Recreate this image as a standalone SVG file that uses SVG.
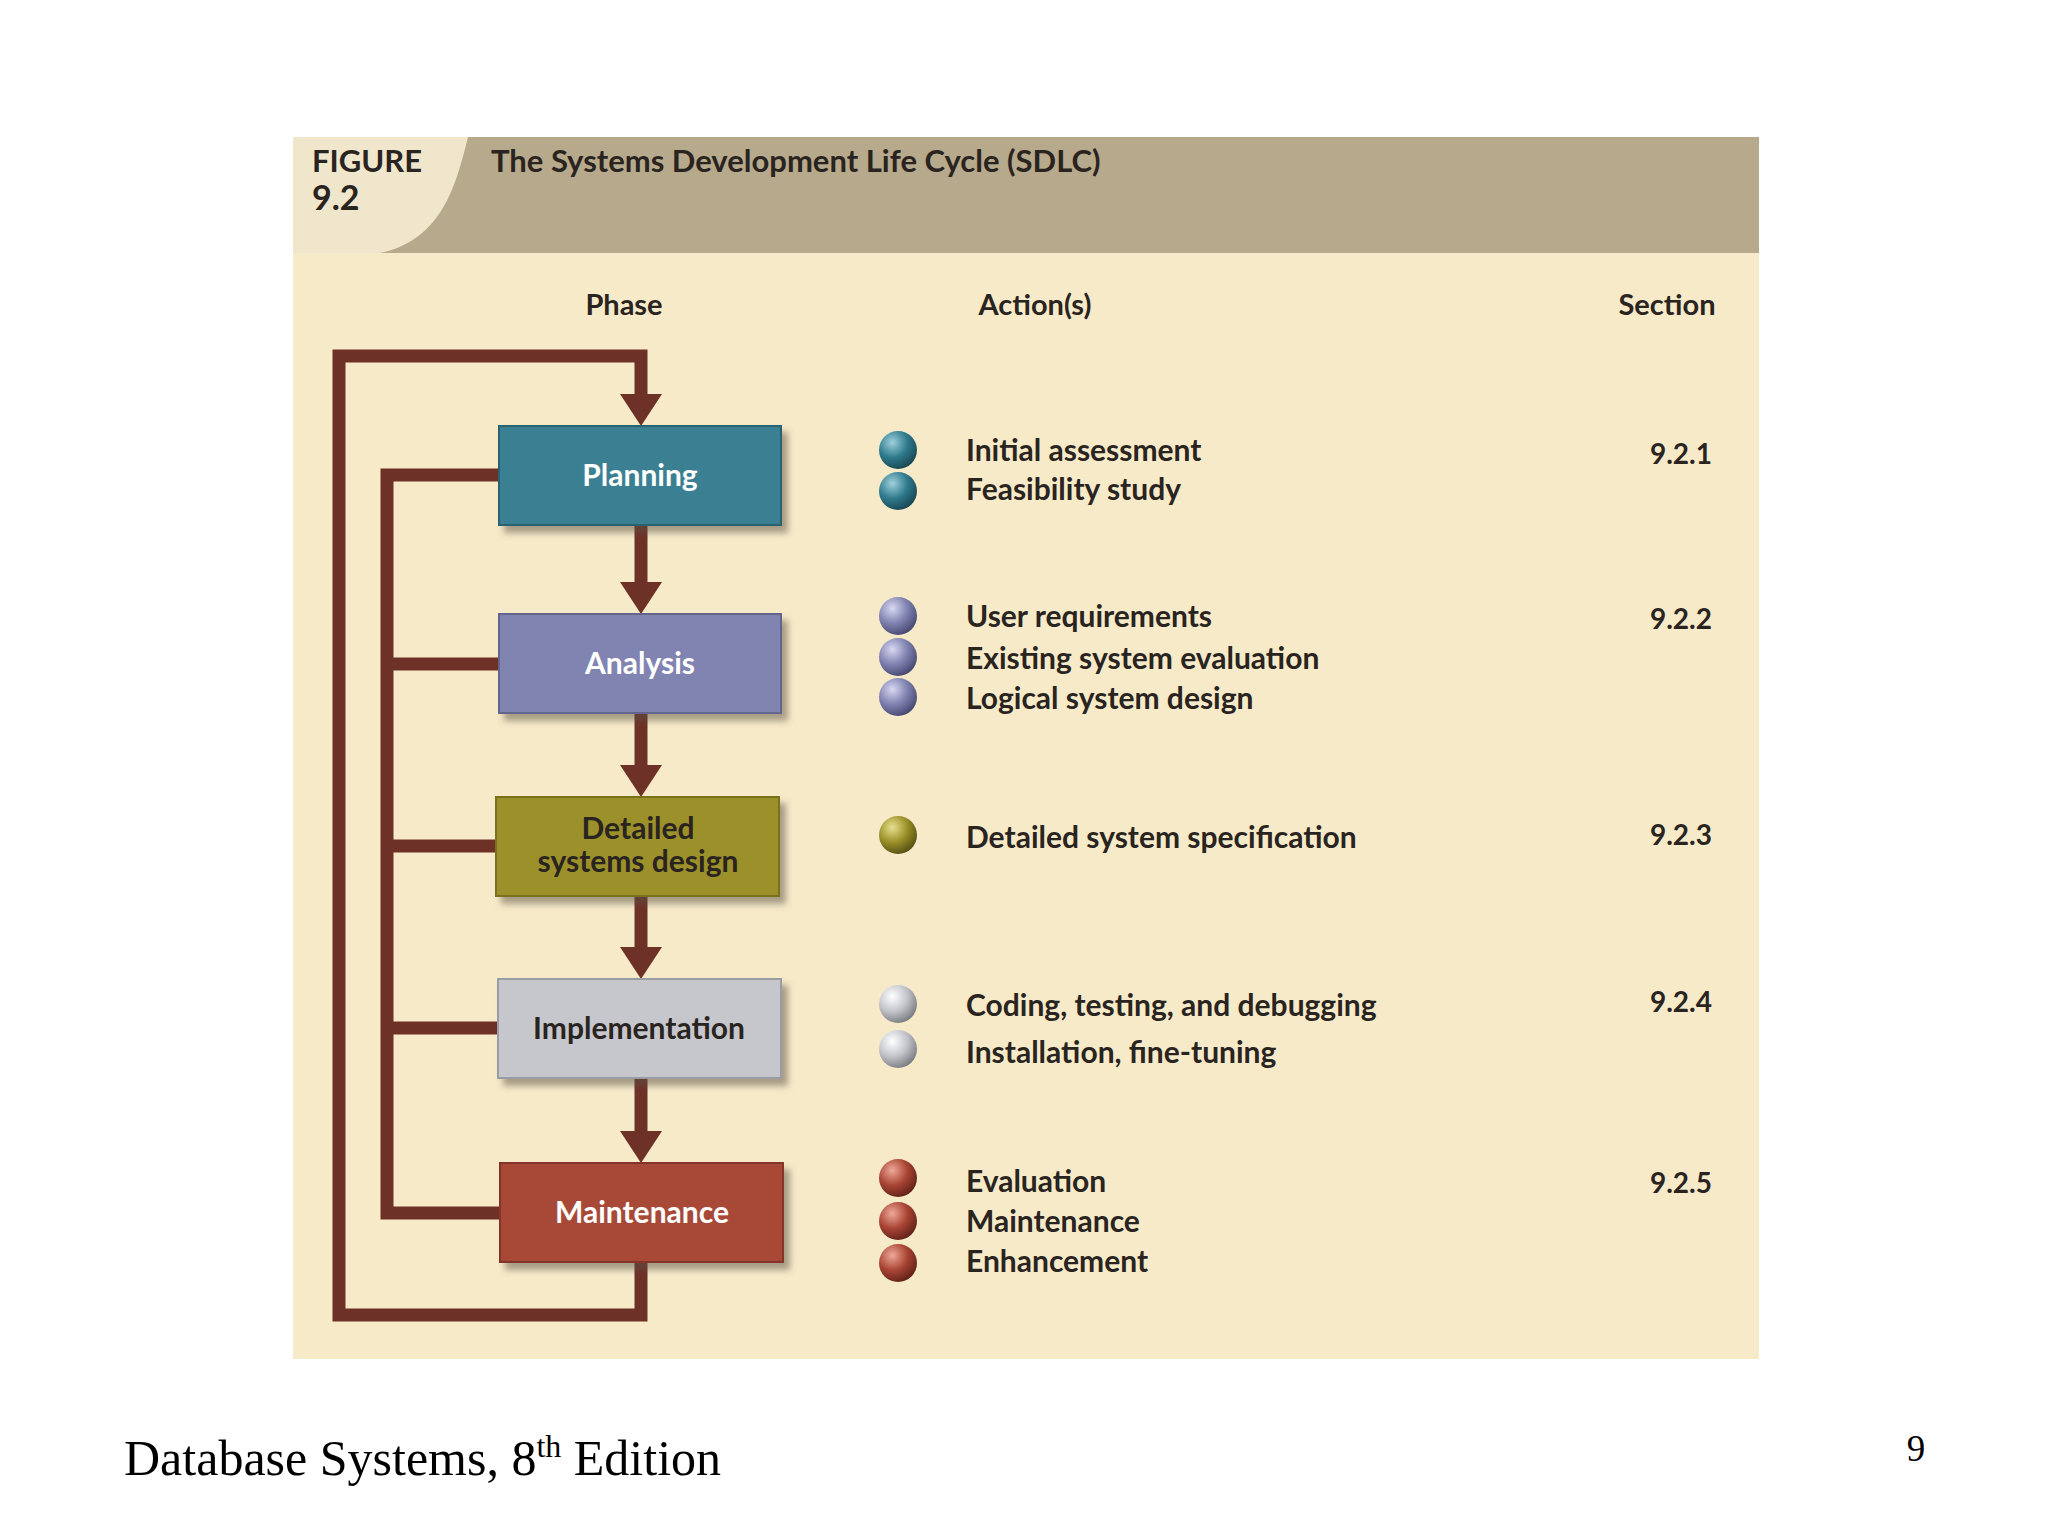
<svg xmlns="http://www.w3.org/2000/svg" width="2048" height="1536" viewBox="0 0 2048 1536">
<style>
.t{font-family:Lato,"Open Sans",sans-serif;font-weight:bold;fill:#2a2420}
.h{font-size:29px}
.a{font-size:30px}
.s{font-size:28px}
.bx{font-family:Lato,"Open Sans",sans-serif;font-weight:bold;font-size:30px;text-anchor:middle}
.ln{fill:none;stroke:#6e3128;stroke-width:13;stroke-linejoin:miter}
.ar{fill:#6e3128}
</style>
<defs>
<radialGradient id="gT" cx="0.35" cy="0.3" r="0.8"><stop offset="0" stop-color="#9fd0dc"/><stop offset="0.5" stop-color="#2f7a8d"/><stop offset="1" stop-color="#153e48"/></radialGradient>
<radialGradient id="gA" cx="0.35" cy="0.3" r="0.8"><stop offset="0" stop-color="#d8d9f0"/><stop offset="0.5" stop-color="#7f81b0"/><stop offset="1" stop-color="#3e3f66"/></radialGradient>
<radialGradient id="gD" cx="0.35" cy="0.3" r="0.8"><stop offset="0" stop-color="#e8e090"/><stop offset="0.5" stop-color="#9a8f28"/><stop offset="1" stop-color="#4a4410"/></radialGradient>
<radialGradient id="gI" cx="0.35" cy="0.3" r="0.8"><stop offset="0" stop-color="#ffffff"/><stop offset="0.5" stop-color="#c2c4ca"/><stop offset="1" stop-color="#6d6f76"/></radialGradient>
<radialGradient id="gM" cx="0.35" cy="0.3" r="0.8"><stop offset="0" stop-color="#f0a898"/><stop offset="0.5" stop-color="#a84434"/><stop offset="1" stop-color="#551c14"/></radialGradient>
<filter id="sh" x="-10%" y="-10%" width="130%" height="140%"><feDropShadow dx="6" dy="7" stdDeviation="3" flood-color="#5a5040" flood-opacity="0.5"/></filter>
</defs>
<rect width="2048" height="1536" fill="#ffffff"/>
<rect x="293" y="137" width="1466" height="1222" fill="#f6eac9"/>
<rect x="293" y="137" width="1466" height="116" fill="#b7a98b"/>
<path d="M293 137 H468 C455 190 440 240 380 253 H293 Z" fill="#efe6cc"/>
<text class="t" x="312" y="172" font-size="31" font-weight="normal">FIGURE</text>
<text class="t" x="312" y="210" font-size="34">9.2</text>
<text class="t" x="491" y="172" font-size="31">The Systems Development Life Cycle (SDLC)</text>
<text class="t h" x="624" y="315" text-anchor="middle">Phase</text>
<text class="t h" x="1035" y="315" text-anchor="middle">Action(s)</text>
<text class="t h" x="1667" y="315" text-anchor="middle">Section</text>

<g id="connectors">
<polyline class="ln" points="641,1262 641,1315 339,1315 339,356 641,356 641,396"/>
<polygon class="ar" points="620,394 662,394 641,426"/>
<polyline class="ln" points="499,475 387,475 387,1213 500,1213"/>
<line class="ln" x1="387" y1="664" x2="499" y2="664"/>
<line class="ln" x1="387" y1="846" x2="496" y2="846"/>
<line class="ln" x1="387" y1="1028" x2="498" y2="1028"/>
<line class="ln" x1="641" y1="525" x2="641" y2="584"/>
<polygon class="ar" points="620,582 662,582 641,614"/>
<line class="ln" x1="641" y1="713" x2="641" y2="767"/>
<polygon class="ar" points="620,765 662,765 641,797"/>
<line class="ln" x1="641" y1="896" x2="641" y2="949"/>
<polygon class="ar" points="620,947 662,947 641,979"/>
<line class="ln" x1="641" y1="1078" x2="641" y2="1133"/>
<polygon class="ar" points="620,1131 662,1131 641,1163"/>
</g>

<g id="planning"><rect x="499" y="426" width="282" height="99" fill="#3a8092" stroke="#2a6272" stroke-width="2" filter="url(#sh)"/><text class="bx" x="640" y="486" fill="#ffffff">Planning</text></g>
<g id="analysis"><rect x="499" y="614" width="282" height="99" fill="#8183b1" stroke="#63658f" stroke-width="2" filter="url(#sh)"/><text class="bx" x="640" y="674" fill="#ffffff">Analysis</text></g>
<g id="detailed"><rect x="496" y="797" width="283" height="99" fill="#9b9029" stroke="#7a711c" stroke-width="2" filter="url(#sh)"/><text class="bx" x="638" y="839" fill="#2a2420">Detailed</text><text class="bx" x="638" y="872" fill="#2a2420">systems design</text></g>
<g id="implementation"><rect x="498" y="979" width="283" height="99" fill="#c5c7cd" stroke="#9a9ca3" stroke-width="2" filter="url(#sh)"/><text class="bx" x="639" y="1039" fill="#2a2420">Implementation</text></g>
<g id="maintenance"><rect x="500" y="1163" width="283" height="99" fill="#a84a38" stroke="#83362a" stroke-width="2" filter="url(#sh)"/><text class="bx" x="642" y="1223" fill="#ffffff">Maintenance</text></g>

<g id="actions">
<circle cx="898" cy="450" r="19" fill="url(#gT)"/><circle cx="898" cy="491" r="19" fill="url(#gT)"/>
<circle cx="898" cy="616" r="19" fill="url(#gA)"/><circle cx="898" cy="657" r="19" fill="url(#gA)"/><circle cx="898" cy="697" r="19" fill="url(#gA)"/>
<circle cx="898" cy="835" r="19" fill="url(#gD)"/>
<circle cx="898" cy="1004" r="19" fill="url(#gI)"/><circle cx="898" cy="1049" r="19" fill="url(#gI)"/>
<circle cx="898" cy="1178" r="19" fill="url(#gM)"/><circle cx="898" cy="1221" r="19" fill="url(#gM)"/><circle cx="898" cy="1263" r="19" fill="url(#gM)"/>
<text class="t a" x="966" y="461">Initial assessment</text>
<text class="t a" x="966" y="500">Feasibility study</text>
<text class="t a" x="966" y="627">User requirements</text>
<text class="t a" x="966" y="669">Existing system evaluation</text>
<text class="t a" x="966" y="709">Logical system design</text>
<text class="t a" x="966" y="848">Detailed system specification</text>
<text class="t a" x="966" y="1016">Coding, testing, and debugging</text>
<text class="t a" x="966" y="1063">Installation, fine-tuning</text>
<text class="t a" x="966" y="1192">Evaluation</text>
<text class="t a" x="966" y="1232">Maintenance</text>
<text class="t a" x="966" y="1272">Enhancement</text>
<text class="t s" x="1712" y="464" text-anchor="end">9.2.1</text>
<text class="t s" x="1712" y="629" text-anchor="end">9.2.2</text>
<text class="t s" x="1712" y="845" text-anchor="end">9.2.3</text>
<text class="t s" x="1712" y="1012" text-anchor="end">9.2.4</text>
<text class="t s" x="1712" y="1193" text-anchor="end">9.2.5</text>
</g>
<text x="124" y="1475" font-family="Liberation Serif,serif" font-size="50" fill="#000">Database Systems, 8<tspan font-size="32" dy="-18">th</tspan><tspan dy="18"> Edition</tspan></text>
<text x="1916" y="1461" font-family="Liberation Serif,serif" font-size="37" fill="#000" text-anchor="middle">9</text>
</svg>
